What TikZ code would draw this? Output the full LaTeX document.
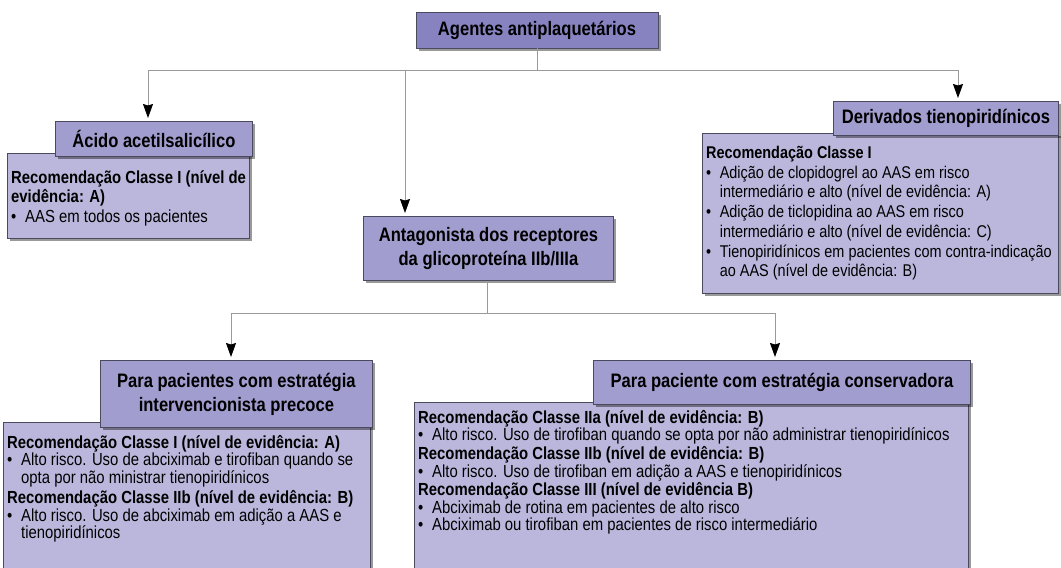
\documentclass[tikz,border=0pt]{standalone}
\usepackage{fontspec}
\setmainfont{Liberation Sans}[FakeStretch=0.85]
\usetikzlibrary{arrows.meta,shadows}
\definecolor{topfill}{HTML}{8783C1}
\definecolor{headfill}{HTML}{A19ECF}
\definecolor{bodyfill}{HTML}{BBB7DC}
\definecolor{edge}{HTML}{4A4A5E}
\definecolor{linec}{HTML}{9A9A9A}
\newcommand\bl{\makebox[0.8em][l]{\textbullet}}
\newcommand\ct{\hspace*{0.8em}}
\tikzset{
  shad/.style={drop shadow={shadow xshift=3pt,shadow yshift=-3pt,fill=black,opacity=0.4}},
  topbox/.style={draw=edge,fill=topfill,line width=0.8pt,shad,inner sep=0pt},
  headbox/.style={draw=edge,fill=headfill,line width=0.8pt,shad,inner sep=0pt},
  bodybox/.style={draw=edge,fill=bodyfill,line width=0.8pt,shad,inner sep=0pt},
  ttl/.style={font=\bfseries\fontsize{19.5}{24}\selectfont,align=center,text=black},
  btxt/.style={font=\fontsize{17.5}{17.6}\selectfont,align=left,anchor=north west,inner sep=0pt,text=black},
  btxtw/.style={btxt,font=\fontsize{17.5}{19.5}\selectfont},
  btxtd/.style={btxt,font=\fontsize{17}{19.7}\selectfont},
  conn/.style={draw=linec,line width=0.9pt},
  arr/.style={conn,-{Stealth[inset=1.5pt,width=10pt,length=14pt,black]},shorten >=3pt},
}
\begin{document}
\begin{tikzpicture}[x=1pt,y=-1pt]
\useasboundingbox (0,0) rectangle (1061,568);
\node[topbox,minimum width=242pt,minimum height=36pt] (top) at (537,30) {};
\node[ttl] (topT) at (top.center) {Agentes antiplaquetários};

% Acido
\node[bodybox,minimum width=242pt,minimum height=85pt,anchor=north west] (acB) at (7,153) {};
\node[headbox,minimum width=197pt,minimum height=35pt,anchor=north west] (acH) at (55,121) {};
\node[ttl] (acT) at (acH.center) {Ácido acetilsalicílico};
\node[btxtw] (acX) at (11,170) {\textbf{Recomendação Classe I (nível de}\\\textbf{evidência: A)}\\\bl AAS em todos os pacientes};

% Derivados
\node[bodybox,minimum width=356pt,minimum height=160pt,anchor=north west] (drB) at (702,133) {};
\node[headbox,minimum width=225pt,minimum height=34pt,anchor=north west] (drH) at (833,101) {};
\node[ttl] (drT) at (drH.center) {Derivados tienopiridínicos};
\node[btxtd] (drX) at (706,146) {\textbf{Recomendação Classe I}\\\bl Adição de clopidogrel ao AAS em risco\\\ct intermediário e alto (nível de evidência: A)\\\bl Adição de ticlopidina ao AAS em risco\\\ct intermediário e alto (nível de evidência: C)\\\bl Tienopiridínicos em pacientes com contra-indicação\\\ct ao AAS (nível de evidência: B)};

% Antagonista
\node[headbox,minimum width=250pt,minimum height=64pt,anchor=north west] (anH) at (363,216) {};
\node[ttl] (anT) at (anH.center) {Antagonista dos receptores\\da glicoproteína IIb/IIIa};

% Left bottom
\node[bodybox,minimum width=367pt,minimum height=150pt,anchor=north west] (lbB) at (3,422) {};
\node[headbox,minimum width=272pt,minimum height=67pt,anchor=north west] (lbH) at (100,360) {};
\node[ttl] (lbT) at (lbH.center) {Para pacientes com estratégia\\intervencionista precoce};
\node[btxt] (lbX) at (7,435) {\textbf{Recomendação Classe I (nível de evidência: A)}\\\bl Alto risco. Uso de abciximab e tirofiban quando se\\\ct opta por não ministrar tienopiridínicos\\[2.5pt]\textbf{Recomendação Classe IIb (nível de evidência: B)}\\\bl Alto risco. Uso de abciximab em adição a AAS e\\\ct tienopiridínicos};

% Right bottom
\node[bodybox,minimum width=554pt,minimum height=170pt,anchor=north west] (rbB) at (414,402) {};
\node[headbox,minimum width=377pt,minimum height=44pt,anchor=north west] (rbH) at (593,360) {};
\node[ttl] (rbT) at (rbH.center) {Para paciente com estratégia conservadora};
\node[btxt] (rbX) at (418,410) {\textbf{Recomendação Classe IIa (nível de evidência: B)}\\\bl Alto risco. Uso de tirofiban quando se opta por não administrar tienopiridínicos\\[1pt]\textbf{Recomendação Classe IIb (nível de evidência: B)}\\\bl Alto risco. Uso de tirofiban em adição a AAS e tienopiridínicos\\[1pt]\textbf{Recomendação Classe III (nível de evidência B)}\\\bl Abciximab de rotina em pacientes de alto risco\\\bl Abciximab ou tirofiban em pacientes de risco intermediário};

% connectors
\coordinate (j0) at (537,70);
\coordinate (jL) at (148,70);
\coordinate (jM) at (405,70);
\coordinate (jR) at (958,70);
\draw[conn] (top.south -| j0) -- (j0);
\draw[conn] (jL) -- (jR);
\draw[arr] (jL) -- (jL |- acH.north);
\draw[arr] (jM) -- (jM |- anH.north);
\draw[arr] (jR) -- (jR |- drH.north);
\coordinate (k0) at (487,313);
\coordinate (kL) at (231,313);
\coordinate (kR) at (775,313);
\draw[conn] (anH.south -| k0) -- (k0);
\draw[conn] (kL) -- (kR);
\draw[arr] (kL) -- (kL |- lbH.north);
\draw[arr] (kR) -- (kR |- rbH.north);
\end{tikzpicture}
\end{document}
